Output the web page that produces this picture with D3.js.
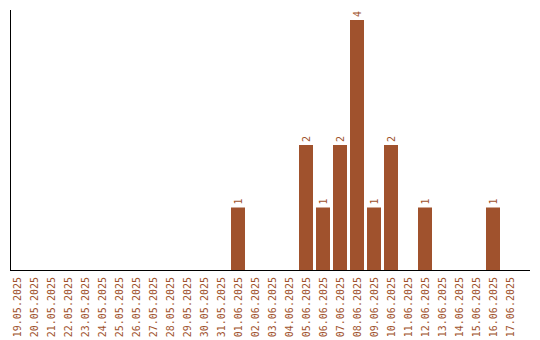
<!DOCTYPE html>
<html><head><meta charset="utf-8">
<script src="https://cdn.jsdelivr.net/npm/d3@7"></script>
<style>html,body{margin:0;padding:0;background:#fff;}svg{display:block;}text{-webkit-font-smoothing:none;}</style>
</head><body>
<svg id="c" width="540" height="340"></svg>
<script>
const dates = ["19.05.2025","20.05.2025","21.05.2025","22.05.2025","23.05.2025","24.05.2025","25.05.2025","26.05.2025","27.05.2025","28.05.2025","29.05.2025","30.05.2025","31.05.2025","01.06.2025","02.06.2025","03.06.2025","04.06.2025","05.06.2025","06.06.2025","07.06.2025","08.06.2025","09.06.2025","10.06.2025","11.06.2025","12.06.2025","13.06.2025","14.06.2025","15.06.2025","16.06.2025","17.06.2025"];
const counts = [0,0,0,0,0,0,0,0,0,0,0,0,0,1,0,0,0,2,1,2,4,1,2,0,1,0,0,0,1,0];

const color = "#a0522d";
const svg = d3.select("#c");
const x = d3.scaleBand().domain(dates).range([8.5, 518.5]).paddingInner(3/17).paddingOuter(3/34);
const y = d3.scaleLinear().domain([0, 4.16]).range([270, 10]);

svg.selectAll("rect.bar").data(counts).join("rect")
  .attr("class","bar")
  .attr("x",(d,i)=>x(dates[i]))
  .attr("width",x.bandwidth())
  .attr("y",d=>y(d))
  .attr("height",d=>270-y(d))
  .attr("fill",color);

svg.selectAll("text.val").data(counts.map((d,i)=>({d,i})).filter(o=>o.d>0)).join("text")
  .attr("class","val")
  .attr("transform",o=>`translate(${x(dates[o.i])+x.bandwidth()/2},${y(o.d)-3}) rotate(-90)`)
  .attr("dy","0.35em")
  .attr("font-family","DejaVu Sans Mono")
  .attr("font-size",10)
  .attr("fill",color)
  .text(o=>o.d);

svg.selectAll("text.lab").data(dates).join("text")
  .attr("class","lab")
  .attr("transform",d=>`translate(${x(d)+x.bandwidth()/2},277) rotate(-90)`)
  .attr("dy","0.35em")
  .attr("text-anchor","end")
  .attr("font-family","DejaVu Sans Mono")
  .attr("font-size",10)
  .attr("fill",color)
  .text(d=>d);

svg.append("line").attr("x1",10.5).attr("x2",10.5).attr("y1",10).attr("y2",270.5).attr("stroke","#000");
svg.append("line").attr("x1",10).attr("x2",530).attr("y1",270.5).attr("y2",270.5).attr("stroke","#000");
</script>
</body></html>
